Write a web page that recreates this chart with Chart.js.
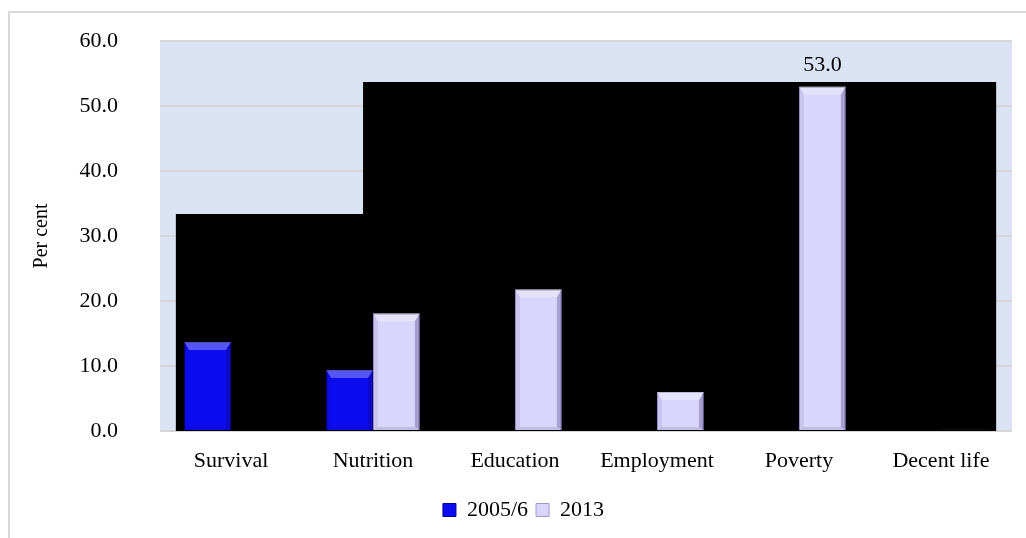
<!DOCTYPE html>
<html lang="en">
<head>
<meta charset="UTF-8">
<title>Per cent by dimension</title>
<script src="https://cdn.jsdelivr.net/npm/chart.js"></script>
<style>
    body { margin: 0; background: #fff; overflow: hidden; }
    /* thin grey frame at top and left, as in the source image */
    .frame {
        position: absolute; left: 8px; top: 11px;
        width: 1100px; height: 600px;
        border-left: 2px solid #d9d9d9;
        border-top: 2px solid #d9d9d9;
    }
    #chart { position: absolute; left: 0; top: 0; }
</style>
</head>
<body>
<div class="frame"></div>
<canvas id="chart" width="1026" height="538"></canvas>

<script>
    // data
    const categories = ['Survival', 'Nutrition', 'Education', 'Employment', 'Poverty', 'Decent life'];
    const values2005 = [13.7, 9.4, null, null, null, null];
    const values2013 = [null, 18.1, 21.8, 6.0, 53.0, 0.2];
    const seriesNames = ['2005/6', '2013'];
    const yMin = 0, yMax = 60, yStep = 10;

    // the black stepped backdrop behind the bars (x in category units, 0 = Survival)
    const backdropX = [-0.39, 0.93, 5.39];
    const backdropY = [33.4, 53.7, 53.7];

    // bars that carry a value label
    const labelledBars = ['Poverty'];

    const serif = '"Liberation Serif", "Times New Roman", serif';

    // light blue plot area
    const plotBg = {
        id: 'plotBg',
        beforeDraw(chart) {
            const {ctx, chartArea: a} = chart;
            ctx.save();
            ctx.fillStyle = '#dae3f3';
            ctx.fillRect(a.left, a.top, a.right - a.left, a.bottom - a.top);
            ctx.restore();
        }
    };

    // bevelled look of the bars: light top face, shaded sides
    const bevel = {
        id: 'bevel',
        afterDatasetsDraw(chart) {
            const ctx = chart.ctx;
            ctx.save();
            [0, 1].forEach(di => {
                chart.getDatasetMeta(di).data.forEach(bar => {
                    if (!bar || isNaN(bar.y)) return;
                    const l = bar.x - bar.width / 2, r = bar.x + bar.width / 2;
                    const t = bar.y, b = bar.base;
                    if (b - t < 8) return;
                    const bt = 8, bs = 5;
                    const face = (pts, fill) => {
                        ctx.beginPath();
                        ctx.moveTo(pts[0][0], pts[0][1]);
                        pts.slice(1).forEach(p => ctx.lineTo(p[0], p[1]));
                        ctx.closePath();
                        ctx.fillStyle = fill;
                        ctx.fill();
                    };
                    face([[l, t], [r, t], [r - bs, t + bt], [l + bs, t + bt]], 'rgba(255,255,255,0.3)');
                    face([[r, t], [r, b], [r - bs, b - 3], [r - bs, t + bt]], 'rgba(20,0,80,0.25)');
                    face([[l, t], [l + bs, t + bt], [l + bs, b - 3], [l, b]], 'rgba(20,0,80,0.08)');
                    face([[l, b], [l + bs, b - 3], [r - bs, b - 3], [r, b]], 'rgba(20,0,80,0.12)');
                });
            });
            ctx.restore();
        }
    };

    // "53.0" above the poverty bar
    const valueLabels = {
        id: 'valueLabels',
        afterDatasetsDraw(chart) {
            const meta = chart.getDatasetMeta(1);
            const ctx = chart.ctx;
            ctx.save();
            ctx.font = '22px ' + serif;
            ctx.fillStyle = '#000';
            ctx.textAlign = 'center';
            ctx.textBaseline = 'alphabetic';
            labelledBars.forEach(name => {
                const i = categories.indexOf(name);
                const bar = meta.data[i];
                ctx.fillText(values2013[i].toFixed(1), bar.x, bar.y - 16);
            });
            ctx.restore();
        }
    };

    const ctx = document.getElementById('chart').getContext('2d');
    new Chart(ctx, {
        type: 'bar',
        data: {
            labels: categories,
            datasets: [
                {
                    label: seriesNames[0],
                    data: values2005,
                    backgroundColor: '#0c0cf0',
                    borderColor: '#0000a0',
                    borderWidth: 1,
                    order: 1
                },
                {
                    label: seriesNames[1],
                    data: values2013,
                    backgroundColor: '#dad6fb',
                    borderColor: '#9f99cc',
                    borderWidth: 1,
                    order: 1
                },
                {
                    // same x axis as the bars; parsing off so fractional positions are kept
                    type: 'line',
                    label: 'backdrop',
                    parsing: false,
                    data: backdropX.map((x, i) => ({x: x, y: backdropY[i]})),
                    stepped: true,
                    fill: 'origin',
                    backgroundColor: '#000',
                    borderColor: '#000',
                    borderWidth: 0,
                    pointRadius: 0,
                    order: 2
                }
            ]
        },
        options: {
            responsive: false,
            animation: false,
            devicePixelRatio: 1,
            layout: {padding: {left: 35, top: 41, right: 14, bottom: 7}},
            datasets: {
                bar: {categoryPercentage: 0.66, barPercentage: 1.0}
            },
            plugins: {
                tooltip: {enabled: false},
                legend: {
                    position: 'bottom',
                    labels: {
                        filter: item => item.datasetIndex < 2,
                        boxWidth: 13,
                        boxHeight: 13,
                        padding: 8,
                        color: '#000',
                        font: {family: serif, size: 22}
                    }
                }
            },
            scales: {
                x: {
                    grid: {display: false},
                    border: {display: false},
                    ticks: {color: '#000', padding: 9, font: {family: serif, size: 22}},
                    afterFit: s => { s.height = 60; }
                },
                y: {
                    min: yMin,
                    max: yMax,
                    ticks: {
                        stepSize: yStep,
                        color: '#000',
                        padding: 42,
                        font: {family: serif, size: 22},
                        callback: v => v.toFixed(1)
                    },
                    grid: {color: '#d6d6d6', lineWidth: 2, drawTicks: false},
                    border: {display: false},
                    title: {
                        display: true,
                        text: 'Per cent',
                        color: '#000',
                        padding: {top: -5, bottom: 0},
                        font: {family: serif, size: 20}
                    },
                    afterFit: s => {
                        s.width = 125;
                        // the wide tick padding should not push the plot down
                        s.paddingTop = 0;
                        s.paddingBottom = 0;
                    }
                }
            }
        },
        plugins: [plotBg, bevel, valueLabels]
    });
</script>
</body>
</html>
